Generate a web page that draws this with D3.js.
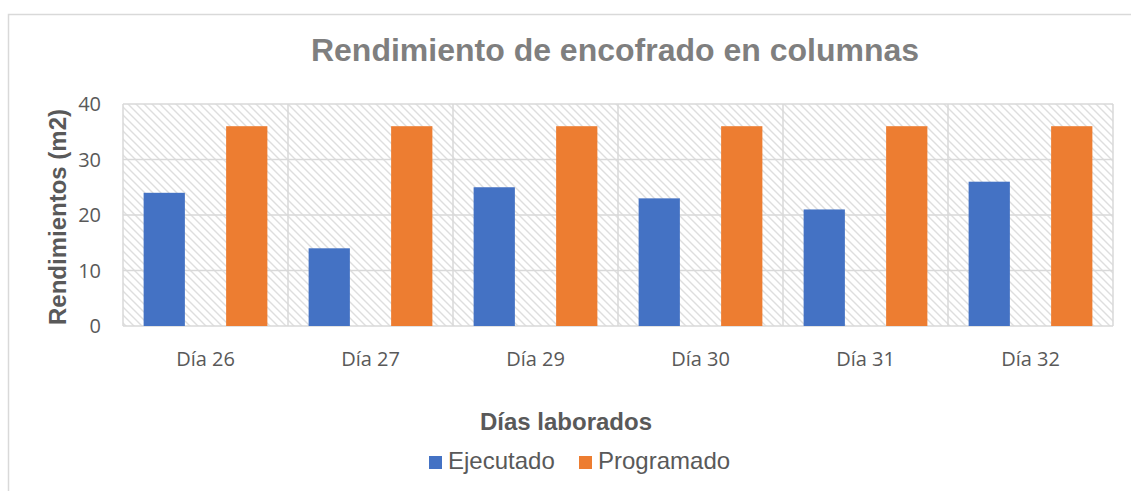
<!DOCTYPE html>
<html>
<head>
<meta charset="utf-8">
<script src="https://cdn.jsdelivr.net/npm/d3@7"></script>
<style>
  body { margin: 0; background: #fff; }
  svg { display: block; }
</style>
</head>
<body>
<svg id="chart" width="1131" height="491"></svg>
<script>
const dias = ["Día 26", "Día 27", "Día 29", "Día 30", "Día 31", "Día 32"];
const series = ["Ejecutado", "Programado"];
const ejecutado = [24, 14, 25, 23, 21, 26];
const programado = [36, 36, 36, 36, 36, 36];
const yTicks = [0, 10, 20, 30, 40];
const colores = ["#4472C4", "#ED7D31"];

const largeur = 1131, hauteur = 491;
const plot = { left: 123, right: 1113, top: 104, bottom: 326 };

const svg = d3.select("#chart");

// hatch pattern of the plot area
const defs = svg.append("defs");
defs.append("pattern")
    .attr("id", "hatch")
    .attr("patternUnits", "userSpaceOnUse")
    .attr("width", 8).attr("height", 8)
    .append("path")
    .attr("d", "M-1,-1 L9,9 M-1,7 L1,9 M7,-1 L9,1")
    .attr("stroke", "#dedede")
    .attr("stroke-width", 1.4);

// chart border
svg.append("rect")
    .attr("x", 8.5).attr("y", 14.5)
    .attr("width", largeur).attr("height", hauteur)
    .attr("fill", "none")
    .attr("stroke", "#d9d9d9")
    .attr("stroke-width", 1.5);

const data = dias.map((d, i) => ({ dia: d, values: [ejecutado[i], programado[i]] }));

const x0 = d3.scaleBand().domain(dias).range([plot.left, plot.right]).paddingInner(0).paddingOuter(0);
const x1 = d3.scaleBand().domain(series).range([0, x0.bandwidth()]).paddingInner(0.5).paddingOuter(0.25);
const y = d3.scaleLinear().domain([0, 40]).range([plot.bottom, plot.top]);

// plot area background
svg.append("rect")
    .attr("x", plot.left).attr("y", plot.top)
    .attr("width", plot.right - plot.left).attr("height", plot.bottom - plot.top)
    .attr("fill", "url(#hatch)");

// horizontal gridlines
svg.append("g")
    .selectAll("line")
    .data(yTicks)
    .enter()
    .append("line")
    .attr("x1", plot.left).attr("x2", plot.right)
    .attr("y1", d => y(d)).attr("y2", d => y(d))
    .attr("stroke", "#d9d9d9")
    .attr("stroke-width", 1.5);

// vertical gridlines at category boundaries
const bounds = dias.map(d => x0(d)).concat([plot.right]);
svg.append("g")
    .selectAll("line")
    .data(bounds)
    .enter()
    .append("line")
    .attr("x1", d => d).attr("x2", d => d)
    .attr("y1", plot.top).attr("y2", plot.bottom)
    .attr("stroke", "#d9d9d9")
    .attr("stroke-width", 1.5);

// bars
svg.append("g")
    .selectAll("g")
    .data(data)
    .enter()
    .append("g")
    .attr("transform", d => "translate(" + x0(d.dia) + ",0)")
    .selectAll("rect")
    .data(d => d.values.map((v, i) => ({ serie: series[i], value: v, idx: i })))
    .enter()
    .append("rect")
    .attr("x", d => x1(d.serie))
    .attr("width", x1.bandwidth())
    .attr("y", d => y(d.value))
    .attr("height", d => y(0) - y(d.value))
    .attr("fill", d => colores[d.idx]);

// y tick labels
svg.append("g")
    .selectAll("text")
    .data(yTicks)
    .enter()
    .append("text")
    .text(d => d)
    .attr("x", 101)
    .attr("y", d => y(d))
    .attr("dy", "0.35em")
    .attr("text-anchor", "end")
    .attr("fill", "#595959")
    .style("font-family", "'Open Sans', sans-serif")
    .style("font-size", "20px");

// x tick labels
svg.append("g")
    .selectAll("text")
    .data(dias)
    .enter()
    .append("text")
    .text(d => d)
    .attr("x", d => x0(d) + x0.bandwidth() / 2)
    .attr("y", 366)
    .attr("text-anchor", "middle")
    .attr("fill", "#595959")
    .style("font-family", "'Open Sans', sans-serif")
    .style("font-size", "20px");

// title
svg.append("text")
    .text("Rendimiento de encofrado en columnas")
    .attr("x", 615).attr("y", 61)
    .attr("text-anchor", "middle")
    .attr("fill", "#7f7f7f")
    .style("font-family", "'Liberation Sans', Arial, sans-serif")
    .style("font-weight", "bold")
    .style("font-size", "32px");

// axis titles
svg.append("text")
    .text("Rendimientos (m2)")
    .attr("transform", "translate(66," + ((plot.top + plot.bottom) / 2 + 2) + ") rotate(-90)")
    .attr("text-anchor", "middle")
    .attr("fill", "#595959")
    .style("font-family", "'Liberation Sans', Arial, sans-serif")
    .style("font-weight", "bold")
    .style("font-size", "24px");

svg.append("text")
    .text("Días laborados")
    .attr("x", 566).attr("y", 430)
    .attr("text-anchor", "middle")
    .attr("fill", "#595959")
    .style("font-family", "'Liberation Sans', Arial, sans-serif")
    .style("font-weight", "bold")
    .style("font-size", "24px");

// legend
const legendX = [429, 579];
const legend = svg.append("g")
    .selectAll("g")
    .data(series)
    .enter()
    .append("g")
    .attr("transform", (d, i) => "translate(" + legendX[i] + ",456)");

legend.append("rect")
    .attr("width", 13).attr("height", 13)
    .attr("fill", (d, i) => colores[i]);

legend.append("text")
    .text(d => d)
    .attr("x", 19).attr("y", 13)
    .attr("fill", "#595959")
    .style("font-family", "'Liberation Sans', Arial, sans-serif")
    .style("font-size", "24px");
</script>
</body>
</html>
